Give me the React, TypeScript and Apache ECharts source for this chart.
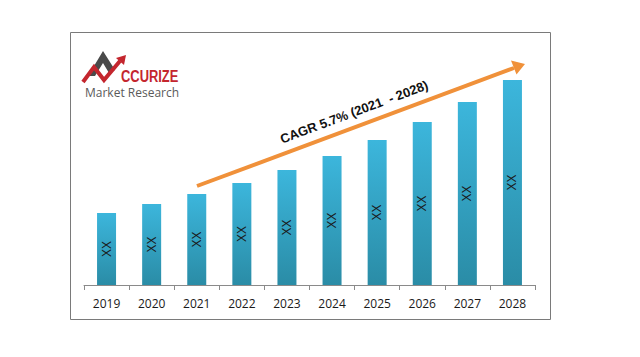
import React, { useEffect, useRef } from "react";
import * as echarts from "echarts";

const years = ["2019", "2020", "2021", "2022", "2023", "2024", "2025", "2026", "2027", "2028"];
const values = [72, 81, 91, 102, 115, 129, 145, 163, 183, 205];
const barLabel = "XX";
const cagrText = "CAGR 5.7% (2021  - 2028)";
const brandText = "CCURIZE";
const subText = "Market Research";

export default function App() {
  const ref = useRef<HTMLDivElement>(null);
  useEffect(() => {
    document.body.style.margin = "0";
    const chart = echarts.init(ref.current!, null, { renderer: "svg" });
    const orange = "#f0913a";
    chart.setOption({
      animation: false,
      backgroundColor: "#ffffff",
      grid: { left: 84, right: 105, top: 80, bottom: 72 },
      xAxis: {
        type: "category",
        data: years,
        axisLine: { lineStyle: { color: "#8a8a8a", width: 1 } },
        axisTick: { show: true, length: 5, lineStyle: { color: "#8a8a8a" } },
        axisLabel: {
          color: "#1a1a1a",
          fontSize: 12,
          fontFamily: "Open Sans, Liberation Sans, sans-serif",
          margin: 12,
        },
      },
      yAxis: {
        type: "value",
        min: 0,
        max: 205,
        show: false,
        splitLine: { show: false },
      },
      series: [
        {
          type: "bar",
          data: values,
          barWidth: 19,
          itemStyle: {
            color: new echarts.graphic.LinearGradient(0, 0, 0, 1, [
              { offset: 0, color: "#3cb6dc" },
              { offset: 1, color: "#2a8ca6" },
            ]),
          },
          label: {
            show: true,
            position: "inside",
            rotate: 90,
            formatter: () => barLabel,
            color: "#1a1a1a",
            fontSize: 12,
            fontFamily: "Liberation Sans, sans-serif",
          },
        },
      ],
      graphic: [
        {
          type: "rect",
          shape: { x: 70.5, y: 32.5, width: 480, height: 287 },
          style: { fill: "none", stroke: "#7a7a7a", lineWidth: 1 },
          silent: true,
        },
        {
          type: "line",
          shape: { x1: 197, y1: 186, x2: 514, y2: 68 },
          style: { stroke: orange, lineWidth: 4 },
        },
        {
          type: "polygon",
          shape: { points: [[525, 64], [516.5, 74.5], [511, 60.5]] },
          style: { fill: orange },
        },
        {
          type: "text",
          x: 354,
          y: 112,
          rotation: 0.358,
          style: {
            text: cagrText,
            fill: "#111111",
            font: "bold 13px Liberation Sans, Arial, sans-serif",
            align: "center",
            verticalAlign: "middle",
          },
        },
        // logo
        {
          type: "polygon",
          shape: { points: [[88, 76], [103, 51], [115, 70], [109, 73], [103, 63], [95, 76]] },
          style: { fill: "#4a4a4a" },
        },
        {
          type: "polyline",
          shape: { points: [[83, 82], [94, 67], [104, 80], [120, 61]] },
          style: { stroke: "#c4262e", lineWidth: 4, fill: "none" },
        },
        {
          type: "polygon",
          shape: { points: [[126, 55], [124, 65], [116, 58]] },
          style: { fill: "#c4262e" },
        },
        {
          type: "text",
          x: 121,
          y: 76,
          scaleX: 0.76,
          style: {
            text: brandText,
            fill: "#c4262e",
            font: "bold 17px Liberation Sans, Arial, sans-serif",
            verticalAlign: "middle",
          },
        },
        {
          type: "text",
          x: 85,
          y: 92,
          style: {
            text: subText,
            fill: "#5a5a5a",
            font: "12px Open Sans, Liberation Sans, sans-serif",
            verticalAlign: "middle",
          },
        },
      ],
    });
    return () => chart.dispose();
  }, []);
  return (
    <div
      ref={ref}
      style={{ position: "fixed", left: 0, top: 0, width: 640, height: 357 }}
    />
  );
}
